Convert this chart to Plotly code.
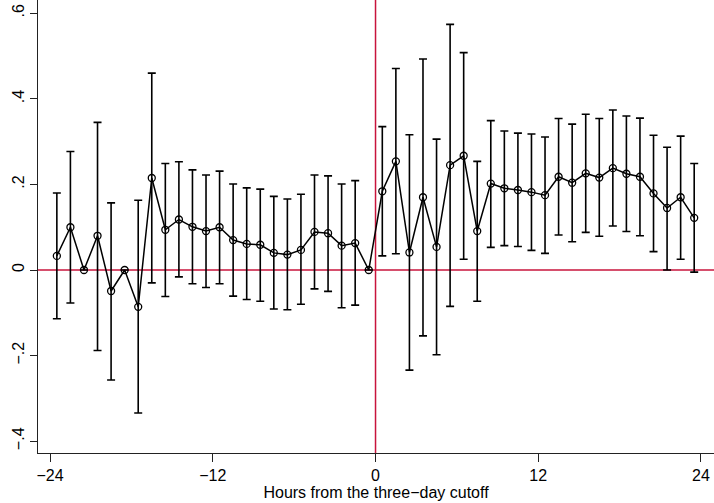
import plotly.graph_objects as go

# Hourly bins (centres) around the three-day cutoff
hours = [h + 0.5 for h in range(-24, 24)]

# Point estimates per hourly bin
estimate = [
    0.033, 0.100, 0.000, 0.080, -0.049, 0.000, -0.086, 0.215,
    0.094, 0.118, 0.101, 0.091, 0.100, 0.070, 0.061, 0.059,
    0.040, 0.036, 0.047, 0.089, 0.086, 0.057, 0.063, 0.000,
    0.184, 0.254, 0.041, 0.170, 0.054, 0.245, 0.267, 0.091,
    0.202, 0.191, 0.187, 0.182, 0.175, 0.218, 0.204, 0.226,
    0.216, 0.238, 0.225, 0.218, 0.179, 0.145, 0.170, 0.122,
]

# Upper and lower confidence bounds (None = omitted category, no interval)
ci_upper = [
    0.180, 0.277, None, 0.345, 0.157, None, 0.163, 0.460,
    0.249, 0.253, 0.234, 0.222, 0.231, 0.201, 0.192, 0.189,
    0.172, 0.166, 0.177, 0.222, 0.220, 0.201, 0.209, None,
    0.335, 0.471, 0.316, 0.493, 0.306, 0.574, 0.508, 0.254,
    0.349, 0.325, 0.320, 0.318, 0.311, 0.354, 0.341, 0.364,
    0.354, 0.374, 0.360, 0.355, 0.315, 0.287, 0.313, 0.249,
]
ci_lower = [
    -0.114, -0.077, None, -0.188, -0.257, None, -0.334, -0.030,
    -0.062, -0.016, -0.032, -0.041, -0.032, -0.061, -0.069, -0.073,
    -0.091, -0.093, -0.080, -0.044, -0.050, -0.088, -0.082, None,
    0.033, 0.038, -0.234, -0.154, -0.198, -0.085, 0.025, -0.073,
    0.053, 0.057, 0.055, 0.046, 0.039, 0.082, 0.066, 0.088,
    0.079, 0.103, 0.090, 0.080, 0.043, 0.000, 0.025, -0.005,
]

x_ticks = [-24, -12, 0, 12, 24]
x_ticktext = ["\u221224", "\u221212", "0", "12", "24"]
y_ticks = [-0.4, -0.2, 0, 0.2, 0.4, 0.6]
y_ticktext = ["\u2212.4", "\u2212.2", "0", ".2", ".4", ".6"]

err_plus = [None if u is None else u - e for u, e in zip(ci_upper, estimate)]
err_minus = [None if l is None else e - l for l, e in zip(ci_lower, estimate)]

RED = "#c8143c"
FONT = "Liberation Sans, Arial, sans-serif"

fig = go.Figure()

fig.add_trace(go.Scatter(
    x=hours,
    y=estimate,
    mode="lines+markers",
    line=dict(color="black", width=1.5),
    marker=dict(symbol="circle-open", size=7, color="black",
                line=dict(width=1.3, color="black")),
    error_y=dict(type="data", symmetric=False,
                 array=err_plus, arrayminus=err_minus,
                 color="black", thickness=1.6, width=4),
    showlegend=False,
    hoverinfo="x+y",
))

# Reference lines at zero effect and at the cutoff
fig.add_shape(type="line", xref="paper", yref="y", x0=0, x1=1, y0=0, y1=0,
              line=dict(color=RED, width=1.5), layer="below")
fig.add_shape(type="line", xref="x", yref="paper", x0=0, x1=0, y0=0, y1=1,
              line=dict(color=RED, width=1.5), layer="below")

fig.update_layout(
    width=714,
    height=503,
    margin=dict(l=38, r=0, t=0, b=50),
    paper_bgcolor="white",
    plot_bgcolor="white",
    font=dict(family=FONT, size=16, color="black"),
    xaxis=dict(
        range=[-24.89, 24.96],
        tickmode="array", tickvals=x_ticks, ticktext=x_ticktext,
        ticks="outside", ticklen=8, tickwidth=1, tickcolor="#222",
        showgrid=False, zeroline=False,
        showline=True, linecolor="#222", linewidth=1,
        title=dict(text="Hours from the three\u2212day cutoff",
                   font=dict(size=16), standoff=2),
        tickfont=dict(size=16),
    ),
    yaxis=dict(
        range=[-0.4276, 0.631],
        tickmode="array", tickvals=y_ticks, ticktext=y_ticktext,
        tickangle=-90,
        ticks="outside", ticklen=7, tickwidth=1, tickcolor="#222",
        showgrid=False, zeroline=False,
        showline=True, linecolor="#222", linewidth=1,
        tickfont=dict(size=16),
    ),
)

fig.write_html("out.html")
